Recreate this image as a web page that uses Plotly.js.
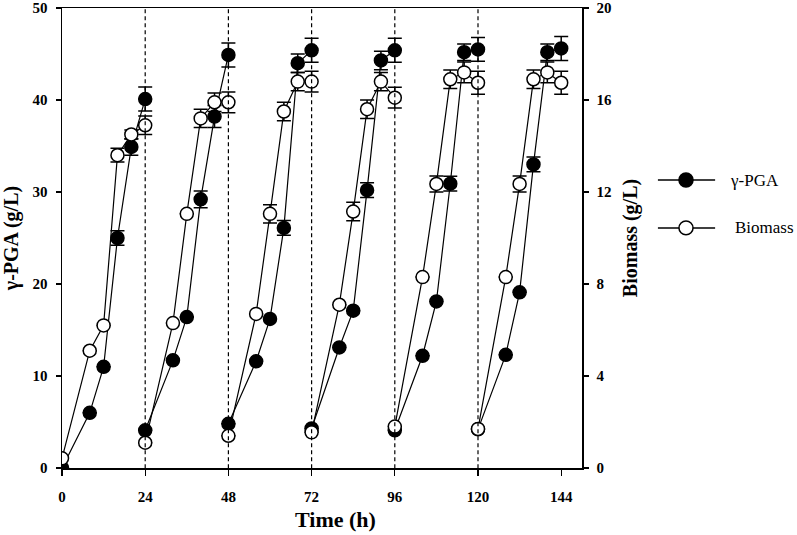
<!DOCTYPE html>
<html><head><meta charset="utf-8">
<script src="https://cdn.plot.ly/plotly-3.0.1.min.js"></script>
<style>body{margin:0;background:#fff}#chart{width:797px;height:535px}</style>
</head><body><div id="chart"></div>
<script>
// Sampling times (h); null separates fed-batch cycles
const timeH = [0,8,12,16,20,24,null,24,32,36,40,44,48,null,48,56,60,64,68,72,null,72,80,84,88,92,96,null,96,104,108,112,116,120,null,120,128,132,136,140,144];
// gamma-PGA (g/L)
const pga = [0,6.0,11.0,25.0,34.9,40.1,null,4.1,11.7,16.4,29.2,38.2,44.9,null,4.8,11.6,16.2,26.1,44.0,45.4,null,4.3,13.1,17.1,30.2,44.3,45.4,null,4.1,12.2,18.1,30.9,45.2,45.5,null,4.2,12.3,19.1,33.0,45.2,45.6];
const pgaErr = [0,0,0,0.8,0.9,1.3,null,0,0,0,0.9,1.2,1.3,null,0,0,0,0.8,1.0,1.3,null,0,0,0,0.8,1.0,1.3,null,0,0,0,0.8,0.9,1.3,null,0,0,0,0.8,0.9,1.3];
// Biomass (g/L)
const biomass = [0.42,5.1,6.2,13.6,14.5,14.9,null,1.1,6.3,11.05,15.2,15.9,15.9,null,1.4,6.7,11.05,15.5,16.8,16.8,null,1.55,7.1,11.15,15.6,16.8,16.1,null,1.8,8.3,12.35,16.9,17.2,16.75,null,1.7,8.3,12.35,16.9,17.2,16.75];
const bioErr = [0,0,0,0.3,0.2,0.4,null,0,0,0,0.4,0.4,0.45,null,0,0,0.4,0.4,0.4,0.45,null,0,0,0.4,0.4,0.4,0.45,null,0,0,0.35,0.4,0.45,0.5,null,0,0,0.35,0.4,0.45,0.5];
const cycleBoundaries = [24,48,72,96,120];
const xTicks = [0,24,48,72,96,120,144];
const seriesNames = ['γ-PGA', 'Biomass'];

const serif = 'Liberation Serif, Times New Roman, serif';
const tickFont = {family: serif, size: 15, color: '#000', weight: 'bold'};
const titleFont = {family: serif, size: 20, color: '#000', weight: 'bold'};

const traces = [
  {x: timeH, y: pga, name: seriesNames[0], type: 'scatter', mode: 'lines+markers', connectgaps: false,
   line: {color: '#000', width: 1.2},
   marker: {symbol: 'circle', size: 13, color: '#000', line: {color: '#000', width: 1.5}},
   error_y: {type: 'data', array: pgaErr, visible: true, color: '#000', thickness: 1.5, width: 7}},
  {x: timeH, y: biomass, name: seriesNames[1], type: 'scatter', mode: 'lines+markers', connectgaps: false, yaxis: 'y2',
   line: {color: '#000', width: 1.2},
   marker: {symbol: 'circle', size: 13, color: '#fff', line: {color: '#000', width: 1.5}},
   error_y: {type: 'data', array: bioErr, visible: true, color: '#000', thickness: 1.5, width: 7}}
];

const shapes = cycleBoundaries.map(t => ({type: 'line', xref: 'x', yref: 'y', x0: t, x1: t, y0: -0.8, y1: 50,
  line: {color: '#000', width: 1.2, dash: '4px,3px'}}));

// Hand-drawn legend (long sample line, as in the original figure)
const legendRows = [
  {y: 0.626, fill: '#000', textX: 1.281},
  {y: 0.522, fill: '#fff', textX: 1.290}
];
const annotations = [];
legendRows.forEach((r, i) => {
  shapes.push({type: 'line', xref: 'paper', yref: 'paper', x0: 1.146, x1: 1.256, y0: r.y, y1: r.y,
               line: {color: '#000', width: 1.5}});
  shapes.push({type: 'circle', xref: 'paper', yref: 'paper', x0: 1.2 - 0.0135, x1: 1.2 + 0.0135,
               y0: r.y - 0.0152, y1: r.y + 0.0152, fillcolor: r.fill, line: {color: '#000', width: 1.5}});
  annotations.push({xref: 'paper', yref: 'paper', x: r.textX, y: r.y, xanchor: 'left', yanchor: 'middle',
                    showarrow: false, text: seriesNames[i], font: {family: serif, size: 17, color: '#000'}});
});
// x-axis title (placed slightly right of centre, as in the original)
annotations.push({xref: 'paper', yref: 'paper', x: 0.525, y: -0.113, xanchor: 'center', yanchor: 'middle',
                  showarrow: false, text: 'Time (h)', font: {family: serif, size: 22, color: '#000', weight: 'bold'}});

const layout = {
  width: 797, height: 535,
  margin: {l: 62, r: 215, t: 8, b: 67},
  paper_bgcolor: '#fff', plot_bgcolor: '#fff',
  showlegend: false,
  xaxis: {range: [0, 150], tickvals: xTicks, ticks: 'outside', ticklen: 6, tickwidth: 1.2, tickcolor: '#000',
          showline: true, linecolor: '#000', linewidth: 1.5, mirror: true, showgrid: false, zeroline: false,
          tickfont: tickFont, ticklabelstandoff: 8},
  yaxis: {range: [0, 50], dtick: 10, ticks: 'outside', ticklen: 5, tickwidth: 1.2, tickcolor: '#000',
          showline: true, linecolor: '#000', linewidth: 1.5, showgrid: false, zeroline: false,
          tickfont: tickFont, ticklabelstandoff: 5,
          title: {text: 'γ-PGA (g/L)', font: titleFont, standoff: 10}},
  yaxis2: {range: [0, 20], dtick: 4, overlaying: 'y', side: 'right', ticks: 'outside', ticklen: 5, tickwidth: 1.2, tickcolor: '#000',
           showline: true, linecolor: '#000', linewidth: 1.5, showgrid: false, zeroline: false,
           tickfont: tickFont, ticklabelstandoff: 5,
           title: {text: 'Biomass (g/L)', font: titleFont, standoff: 12}},
  shapes: shapes,
  annotations: annotations
};

Plotly.newPlot('chart', traces, layout, {displayModeBar: false, staticPlot: true});
</script></body></html>
